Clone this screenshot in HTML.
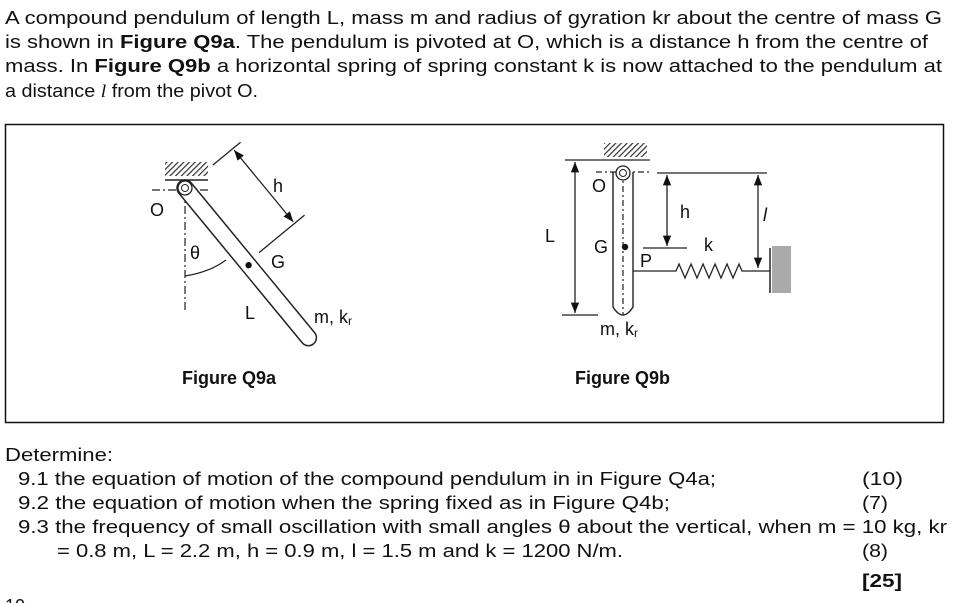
<!DOCTYPE html>
<html><head><meta charset="utf-8"><style>
html,body{margin:0;padding:0;background:#fff;}
svg{display:block;}
text{font-family:"Liberation Sans",Arial,sans-serif;fill:#111;}
</style></head><body>
<svg width="963" height="603" viewBox="0 0 963 603" xmlns="http://www.w3.org/2000/svg">
<defs>
<pattern id="hatch" width="4" height="4" patternUnits="userSpaceOnUse" patternTransform="rotate(45)">
<rect width="4" height="4" fill="#fff"/><line x1="0" y1="0" x2="0" y2="4" stroke="#333" stroke-width="2.4"/>
</pattern>
<marker id="ar" viewBox="0 0 10 10" refX="10" refY="5" markerWidth="8" markerHeight="8" orient="auto-start-reverse">
<path d="M0,1 L10,5 L0,9 Z" fill="#111"/>
</marker>
</defs>
<g font-size="18">
<text x="5" y="24" textLength="937" lengthAdjust="spacingAndGlyphs">A compound pendulum of length L, mass m and radius of gyration kr about the centre of mass G</text>
<text x="5" y="48" textLength="923" lengthAdjust="spacingAndGlyphs">is shown in <tspan font-weight="bold">Figure Q9a</tspan>. The pendulum is pivoted at O, which is a distance h from the centre of</text>
<text x="5" y="72" textLength="937" lengthAdjust="spacingAndGlyphs">mass. In <tspan font-weight="bold">Figure Q9b</tspan> a horizontal spring of spring constant k is now attached to the pendulum at</text>
<text x="5" y="97" textLength="253" lengthAdjust="spacingAndGlyphs">a distance <tspan font-style="italic" font-family="Liberation Serif">l</tspan> from the pivot O.</text>
</g>
<rect x="5.5" y="124.5" width="938" height="298" fill="none" stroke="#111" stroke-width="1.5"/>

<!-- Figure Q9a -->
<rect x="165" y="162" width="43" height="14" fill="url(#hatch)"/>
<line x1="165" y1="180" x2="208" y2="180" stroke="#222" stroke-width="1.5"/>
<line x1="152" y1="190" x2="210" y2="190" stroke="#222" stroke-width="1.2" stroke-dasharray="8,3,2,3"/>
<line x1="185" y1="190" x2="185" y2="312" stroke="#222" stroke-width="1.2" stroke-dasharray="8,3,2,3"/>
<path d="M185,276 Q210,272 226,260" fill="none" stroke="#222" stroke-width="1.2"/>
<g transform="translate(185,188) rotate(-39.5)">
<rect x="-8" y="-8" width="16" height="210" rx="8" fill="#fff" stroke="#222" stroke-width="1.5"/>
<circle cx="0" cy="0" r="7" fill="#fff" stroke="#222" stroke-width="1.3"/>
<circle cx="0" cy="0" r="3.5" fill="#fff" stroke="#222" stroke-width="1"/>
<circle cx="0" cy="100" r="3.2" fill="#111"/>
<line x1="36" y1="0" x2="72" y2="0" stroke="#222" stroke-width="1.3"/>
<line x1="16" y1="97" x2="75" y2="97" stroke="#222" stroke-width="1.3"/>
<line x1="62" y1="2" x2="62" y2="95" stroke="#222" stroke-width="1.3" marker-start="url(#ar)" marker-end="url(#ar)"/>
</g>
<g font-size="18">
<text x="150" y="216">O</text>
<text x="190" y="259">θ</text>
<text x="271" y="268">G</text>
<text x="245" y="319">L</text>
<text x="273" y="192">h</text>
<text x="314" y="323">m, k<tspan font-size="12" dy="2">r</tspan></text>
</g>
<text x="182" y="384" font-size="18" font-weight="bold">Figure Q9a</text>

<!-- Figure Q9b -->
<rect x="604" y="143" width="43" height="14" fill="url(#hatch)"/>
<line x1="600" y1="160" x2="650" y2="160" stroke="#222" stroke-width="1.3"/>
<path d="M613,172 L613,307 Q623,323 633,307 L633,172" fill="#fff" stroke="#222" stroke-width="1.4"/>
<line x1="596" y1="172" x2="650" y2="172" stroke="#222" stroke-width="1.2" stroke-dasharray="6,3,2,3"/>
<line x1="623" y1="172" x2="623" y2="314" stroke="#222" stroke-width="1.2" stroke-dasharray="6,3,2,3"/>
<circle cx="623" cy="173" r="7" fill="#fff" stroke="#222" stroke-width="1.3"/>
<circle cx="623" cy="173" r="3.5" fill="#fff" stroke="#222" stroke-width="1"/>
<circle cx="625" cy="247" r="3.2" fill="#111"/>
<line x1="565" y1="160" x2="600" y2="160" stroke="#222" stroke-width="1.3"/>
<line x1="562" y1="315" x2="598" y2="315" stroke="#222" stroke-width="1.3"/>
<line x1="575" y1="162" x2="575" y2="313" stroke="#222" stroke-width="1.3" marker-start="url(#ar)" marker-end="url(#ar)"/>
<line x1="657" y1="173" x2="767" y2="173" stroke="#222" stroke-width="1.3"/>
<line x1="643" y1="248" x2="687" y2="248" stroke="#222" stroke-width="1.3"/>
<line x1="667" y1="175" x2="667" y2="246" stroke="#222" stroke-width="1.3" marker-start="url(#ar)" marker-end="url(#ar)"/>
<line x1="758" y1="175" x2="758" y2="268" stroke="#222" stroke-width="1.3" marker-start="url(#ar)" marker-end="url(#ar)"/>
<polyline points="633,271 676,271 679,264 685,278 691,264 697,278 703,264 709,278 715,264 721,278 727,264 733,278 739,264 742,271 770,271" fill="none" stroke="#222" stroke-width="1.3"/>
<line x1="770" y1="248" x2="770" y2="293" stroke="#222" stroke-width="1.5"/>
<rect x="772" y="246" width="19" height="47" fill="#aaa"/>
<g font-size="18">
<text x="592" y="192">O</text>
<text x="545" y="242">L</text>
<text x="594" y="253">G</text>
<text x="640" y="267">P</text>
<text x="680" y="218">h</text>
<text x="704" y="251">k</text>
<text x="763" y="221" font-style="italic" font-family="Liberation Serif">l</text>
<text x="600" y="335">m, k<tspan font-size="12" dy="2">r</tspan></text>
</g>
<text x="575" y="384" font-size="18" font-weight="bold">Figure Q9b</text>

<!-- Determine -->
<g font-size="18">
<text x="5" y="461" textLength="108" lengthAdjust="spacingAndGlyphs">Determine:</text>
<text x="18" y="485" textLength="698" lengthAdjust="spacingAndGlyphs">9.1 the equation of motion of the compound pendulum in in Figure Q4a;</text>
<text x="862" y="485" textLength="41" lengthAdjust="spacingAndGlyphs">(10)</text>
<text x="18" y="509" textLength="652" lengthAdjust="spacingAndGlyphs">9.2 the equation of motion when the spring fixed  as in Figure Q4b;</text>
<text x="862" y="509" textLength="26" lengthAdjust="spacingAndGlyphs">(7)</text>
<text x="18" y="533" textLength="929" lengthAdjust="spacingAndGlyphs">9.3 the frequency of small oscillation with small angles θ about the vertical, when m = 10 kg, kr</text>
<text x="57" y="557" textLength="566" lengthAdjust="spacingAndGlyphs">= 0.8 m, L = 2.2 m, h = 0.9 m, l = 1.5 m and k = 1200 N/m.</text>
<text x="862" y="557" textLength="26" lengthAdjust="spacingAndGlyphs">(8)</text>
<text x="862" y="587" font-weight="bold" textLength="40" lengthAdjust="spacingAndGlyphs">[25]</text>
<text x="5" y="612">10</text>
</g>
</svg>
</body></html>
